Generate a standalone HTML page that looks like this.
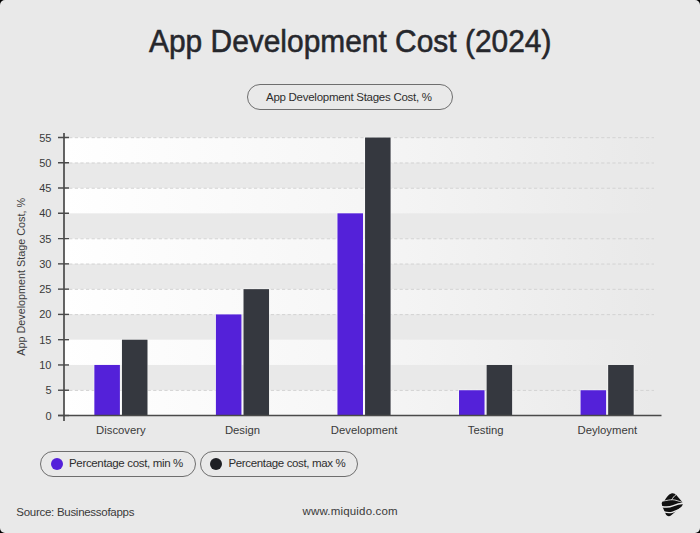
<!DOCTYPE html>
<html><head><meta charset="utf-8">
<style>
html,body{margin:0;padding:0;background:#000;}
body{width:700px;height:533px;overflow:hidden;position:relative;}
#card{position:absolute;left:0;top:0;width:700px;height:533px;background:#e9e9e9;border-radius:5px;overflow:hidden;font-family:"Liberation Sans",sans-serif;}
.t{position:absolute;white-space:nowrap;line-height:1;}
.pill{position:absolute;border:1px solid #6e6e6e;border-radius:14px;box-sizing:border-box;}
.dot{position:absolute;width:12px;height:12px;border-radius:50%;}
</style></head><body>
<div id="card">
<svg width="700" height="533" viewBox="0 0 700 533" style="position:absolute;left:0;top:0">
<defs>
<linearGradient id="band" x1="0" x2="1" y1="0" y2="0">
<stop offset="0" stop-color="#ffffff"/>
<stop offset="0.5" stop-color="#f6f6f6"/>
<stop offset="1" stop-color="#e9e9e9"/>
</linearGradient>
</defs>
<rect x="64" y="137.50" width="590" height="25.27" fill="url(#band)"/><rect x="64" y="188.05" width="590" height="25.27" fill="url(#band)"/><rect x="64" y="238.59" width="590" height="25.27" fill="url(#band)"/><rect x="64" y="289.14" width="590" height="25.27" fill="url(#band)"/><rect x="64" y="339.68" width="590" height="25.27" fill="url(#band)"/><rect x="64" y="390.23" width="590" height="25.27" fill="url(#band)"/>
<line x1="63.6" y1="137.70" x2="654" y2="137.70" stroke="#d3d3d3" stroke-width="1" stroke-dasharray="3.2 2.4"/><line x1="63.6" y1="162.97" x2="654" y2="162.97" stroke="#d3d3d3" stroke-width="1" stroke-dasharray="3.2 2.4"/><line x1="63.6" y1="188.25" x2="654" y2="188.25" stroke="#d3d3d3" stroke-width="1" stroke-dasharray="3.2 2.4"/><line x1="63.6" y1="238.79" x2="654" y2="238.79" stroke="#d3d3d3" stroke-width="1" stroke-dasharray="3.2 2.4"/><line x1="63.6" y1="264.06" x2="654" y2="264.06" stroke="#d3d3d3" stroke-width="1" stroke-dasharray="3.2 2.4"/><line x1="63.6" y1="289.34" x2="654" y2="289.34" stroke="#d3d3d3" stroke-width="1" stroke-dasharray="3.2 2.4"/><line x1="63.6" y1="314.61" x2="654" y2="314.61" stroke="#d3d3d3" stroke-width="1" stroke-dasharray="3.2 2.4"/><line x1="63.6" y1="390.43" x2="654" y2="390.43" stroke="#d3d3d3" stroke-width="1" stroke-dasharray="3.2 2.4"/>
<rect x="93.75" y="364.35" width="26.75" height="51.15" fill="rgba(255,255,255,0.75)"/><rect x="94.35" y="364.95" width="25.55" height="50.55" fill="#5421d9"/><rect x="121.35" y="339.08" width="26.75" height="76.42" fill="rgba(255,255,255,0.75)"/><rect x="121.95" y="339.68" width="25.55" height="75.82" fill="#35383f"/><rect x="215.30" y="313.81" width="26.75" height="101.69" fill="rgba(255,255,255,0.75)"/><rect x="215.90" y="314.41" width="25.55" height="101.09" fill="#5421d9"/><rect x="242.90" y="288.54" width="26.75" height="126.96" fill="rgba(255,255,255,0.75)"/><rect x="243.50" y="289.14" width="25.55" height="126.36" fill="#35383f"/><rect x="336.85" y="212.72" width="26.75" height="202.78" fill="rgba(255,255,255,0.75)"/><rect x="337.45" y="213.32" width="25.55" height="202.18" fill="#5421d9"/><rect x="364.45" y="136.90" width="26.75" height="278.60" fill="rgba(255,255,255,0.75)"/><rect x="365.05" y="137.50" width="25.55" height="278.00" fill="#35383f"/><rect x="458.40" y="389.63" width="26.75" height="25.87" fill="rgba(255,255,255,0.75)"/><rect x="459.00" y="390.23" width="25.55" height="25.27" fill="#5421d9"/><rect x="486.00" y="364.35" width="26.75" height="51.15" fill="rgba(255,255,255,0.75)"/><rect x="486.60" y="364.95" width="25.55" height="50.55" fill="#35383f"/><rect x="579.95" y="389.63" width="26.75" height="25.87" fill="rgba(255,255,255,0.75)"/><rect x="580.55" y="390.23" width="25.55" height="25.27" fill="#5421d9"/><rect x="607.55" y="364.35" width="26.75" height="51.15" fill="rgba(255,255,255,0.75)"/><rect x="608.15" y="364.95" width="25.55" height="50.55" fill="#35383f"/>
<line x1="64" y1="133" x2="64" y2="421" stroke="#4a4a4a" stroke-width="1.7"/>
<line x1="58" y1="415.50" x2="69" y2="415.50" stroke="#4a4a4a" stroke-width="1.4"/><line x1="58" y1="390.23" x2="69" y2="390.23" stroke="#4a4a4a" stroke-width="1.4"/><line x1="58" y1="364.95" x2="69" y2="364.95" stroke="#4a4a4a" stroke-width="1.4"/><line x1="58" y1="339.68" x2="69" y2="339.68" stroke="#4a4a4a" stroke-width="1.4"/><line x1="58" y1="314.41" x2="69" y2="314.41" stroke="#4a4a4a" stroke-width="1.4"/><line x1="58" y1="289.14" x2="69" y2="289.14" stroke="#4a4a4a" stroke-width="1.4"/><line x1="58" y1="263.86" x2="69" y2="263.86" stroke="#4a4a4a" stroke-width="1.4"/><line x1="58" y1="238.59" x2="69" y2="238.59" stroke="#4a4a4a" stroke-width="1.4"/><line x1="58" y1="213.32" x2="69" y2="213.32" stroke="#4a4a4a" stroke-width="1.4"/><line x1="58" y1="188.05" x2="69" y2="188.05" stroke="#4a4a4a" stroke-width="1.4"/><line x1="58" y1="162.77" x2="69" y2="162.77" stroke="#4a4a4a" stroke-width="1.4"/><line x1="58" y1="137.50" x2="69" y2="137.50" stroke="#4a4a4a" stroke-width="1.4"/>
<line x1="58" y1="415.6" x2="661.5" y2="415.6" stroke="#4a4a4a" stroke-width="1.5"/>
<g font-family="Liberation Sans, sans-serif" font-size="11" fill="#3a3a3a">
<text x="51.5" y="419.50" text-anchor="end">0</text><text x="51.5" y="394.23" text-anchor="end">5</text><text x="51.5" y="368.95" text-anchor="end">10</text><text x="51.5" y="343.68" text-anchor="end">15</text><text x="51.5" y="318.41" text-anchor="end">20</text><text x="51.5" y="293.14" text-anchor="end">25</text><text x="51.5" y="267.86" text-anchor="end">30</text><text x="51.5" y="242.59" text-anchor="end">35</text><text x="51.5" y="217.32" text-anchor="end">40</text><text x="51.5" y="192.05" text-anchor="end">45</text><text x="51.5" y="166.77" text-anchor="end">50</text><text x="51.5" y="141.50" text-anchor="end">55</text>
<text x="120.90" y="433.7" text-anchor="middle" font-size="11.3">Discovery</text><text x="242.50" y="433.7" text-anchor="middle" font-size="11.3">Design</text><text x="364.10" y="433.7" text-anchor="middle" font-size="11.3">Development</text><text x="485.70" y="433.7" text-anchor="middle" font-size="11.3">Testing</text><text x="607.30" y="433.7" text-anchor="middle" font-size="11.3">Deyloyment</text>
</g>
<text transform="translate(24.9,276.8) rotate(-90)" text-anchor="middle" font-family="Liberation Sans, sans-serif" font-size="10.8" fill="#3d3d3d">App Development Stage Cost, %</text>
</svg>
<div class="t" id="title" style="left:149px;top:25.5px;font-size:31px;color:#26272c;transform-origin:0 0;transform:scaleX(0.965);-webkit-text-stroke:0.55px #26272c;">App Development Cost (2024)</div>
<div class="pill" style="left:247px;top:84.3px;width:206px;height:26px;"></div>
<div class="t" style="left:266px;top:92px;font-size:11.5px;letter-spacing:-0.27px;color:#2e2e2e;">App Development Stages Cost, %</div>
<div class="pill" style="left:40px;top:451px;width:156px;height:26px;"></div>
<div class="dot" style="left:50.7px;top:458.3px;background:#5420da;"></div>
<div class="t" style="left:69px;top:458px;font-size:11.5px;letter-spacing:-0.34px;color:#2e2e2e;">Percentage cost, min %</div>
<div class="pill" style="left:199.5px;top:451px;width:158px;height:26px;"></div>
<div class="dot" style="left:210.2px;top:458.3px;background:#1e1f24;"></div>
<div class="t" style="left:228.5px;top:458px;font-size:11.5px;letter-spacing:-0.35px;color:#2e2e2e;">Percentage cost, max %</div>
<div class="t" style="left:16.3px;top:506.5px;font-size:11.5px;letter-spacing:-0.28px;color:#3a3a3a;">Source: Businessofapps</div>
<div class="t" style="left:302.5px;top:506.3px;font-size:11.5px;letter-spacing:0.18px;color:#3a3a3a;">www.miquido.com</div>
<svg style="position:absolute;left:658px;top:490px" width="30" height="30" viewBox="0 0 533 533">
<path d="M 68,250 C 58,220 85,200 118,188 C 150,130 185,75 235,60 C 275,50 300,62 325,90 L 420,200 C 450,232 448,262 420,292 L 235,448 C 205,472 165,470 143,440 L 85,310 C 75,290 70,270 68,250 Z" fill="#111"/>
<g fill="none" stroke="#e9e9e9" stroke-linecap="round">
<path d="M 90,196 C 160,186 220,170 262,173 C 310,176 360,196 435,220" stroke-width="15"/>
<path d="M 245,172 C 262,140 285,108 320,82" stroke-width="17"/>
<path d="M 55,292 C 120,305 200,310 262,283 C 320,258 380,240 460,235" stroke-width="26"/>
<path d="M 100,390 C 150,402 200,410 250,396 C 300,382 350,360 410,332" stroke-width="24"/>
</g>
</svg>
</div>
</body></html>
